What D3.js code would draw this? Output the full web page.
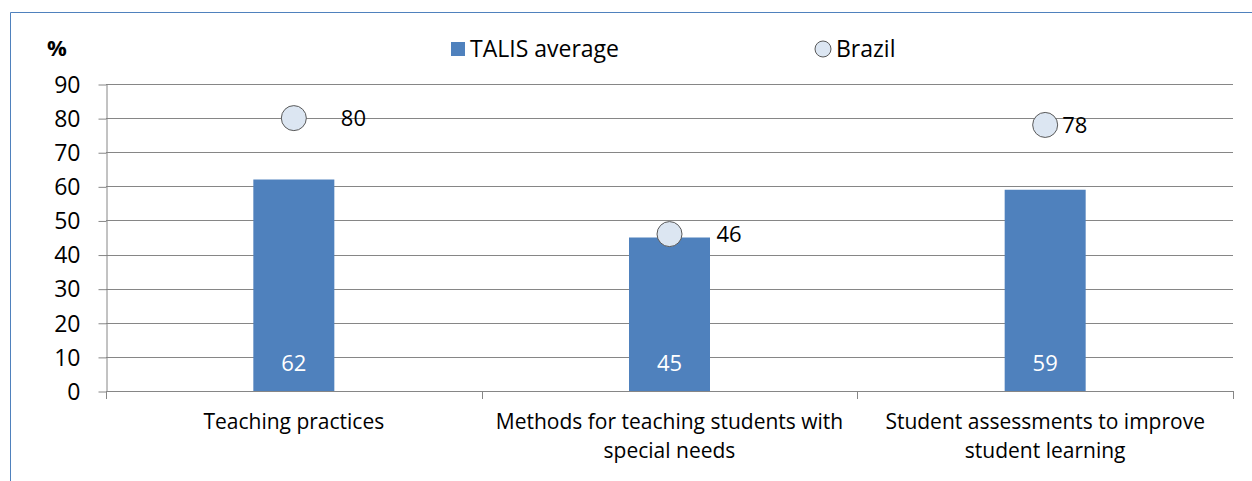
<html lang="en">
<head>
    <meta charset="utf-8">
    <title>TALIS vs Brazil</title>
    <style>
        body { margin: 0; background: white; }
        svg { display: block; }
        .axis path, .axis line { stroke: #868686; }
        text { font-family: "Open Sans", sans-serif; fill: #000; }
    </style>
</head>
<body>
    <script src="https://d3js.org/d3.v7.min.js"></script>
    <div id="chart"></div>
    <script type="text/javascript">
        // data
        var categories = [
            ["Teaching practices"],
            ["Methods for teaching students with", "special needs"],
            ["Student assessments to improve", "student learning"]
        ];
        var talisAverage = [62, 45, 59];
        var brazil = [80, 46, 78];
        var yTicks = [0, 10, 20, 30, 40, 50, 60, 70, 80, 90];

        var width = 1252, height = 481;
        var plotLeft = 106, plotRight = 1233, plotTop = 84, plotBottom = 391;

        var svg = d3.select("#chart").append("svg")
            .attr("width", width)
            .attr("height", height);

        // outer frame (only top and left edges visible)
        svg.append("line").attr("x1", 10.5).attr("x2", width).attr("y1", 12.5).attr("y2", 12.5)
            .attr("stroke", "#4f81bd").attr("stroke-width", 1);
        svg.append("line").attr("x1", 10.5).attr("x2", 10.5).attr("y1", 12.5).attr("y2", height)
            .attr("stroke", "#4f81bd").attr("stroke-width", 1);

        var idx = d3.range(categories.length);
        var x = d3.scaleBand().domain(idx).range([plotLeft, plotRight]);
        var y = d3.scaleLinear().domain([0, 90]).range([plotBottom, plotTop]);

        // gridlines
        svg.append("g").selectAll("line")
            .data(yTicks.filter(function(d) { return d > 0; }))
            .enter().append("line")
            .attr("x1", plotLeft).attr("x2", plotRight)
            .attr("y1", function(d) { return Math.round(y(d)) + 0.5; })
            .attr("y2", function(d) { return Math.round(y(d)) + 0.5; })
            .attr("stroke", "#868686");

        // y axis
        var yAxis = d3.axisLeft(y).tickValues(yTicks).tickSize(8).tickSizeOuter(0).tickPadding(18);
        var gy = svg.append("g").attr("class", "axis")
            .attr("transform", "translate(" + (plotLeft + 0.5) + ",0.5)")
            .call(yAxis);
        gy.selectAll("text").style("font-size", "23px").style("font-family", "'Open Sans', sans-serif")
            .attr("dy", "0.34em");

        // x axis line + boundary ticks
        svg.append("line").attr("x1", plotLeft).attr("x2", plotRight)
            .attr("y1", plotBottom + 0.5).attr("y2", plotBottom + 0.5).attr("stroke", "#868686");
        svg.append("g").selectAll("line")
            .data(d3.range(categories.length + 1))
            .enter().append("line")
            .attr("x1", function(d) { return Math.round(plotLeft + d * x.step()) + 0.5; })
            .attr("x2", function(d) { return Math.round(plotLeft + d * x.step()) + 0.5; })
            .attr("y1", plotBottom).attr("y2", plotBottom + 8)
            .attr("stroke", "#868686");

        // bars
        var barW = 81;
        svg.append("g").selectAll("rect")
            .data(idx)
            .enter().append("rect")
            .attr("x", function(i) { return x(i) + x.bandwidth() / 2 - barW / 2; })
            .attr("y", function(i) { return y(talisAverage[i]); })
            .attr("width", barW)
            .attr("height", function(i) { return plotBottom - y(talisAverage[i]); })
            .attr("fill", "#4f81bd");

        svg.append("g").selectAll("text")
            .data(idx)
            .enter().append("text")
            .attr("x", function(i) { return x(i) + x.bandwidth() / 2; })
            .attr("y", plotBottom - 20)
            .attr("text-anchor", "middle")
            .style("font-size", "22px")
            .style("fill", "white")
            .text(function(i) { return talisAverage[i]; });

        // Brazil markers
        svg.append("g").selectAll("circle")
            .data(idx)
            .enter().append("circle")
            .attr("cx", function(i) { return x(i) + x.bandwidth() / 2; })
            .attr("cy", function(i) { return y(brazil[i]); })
            .attr("r", 12.5)
            .attr("fill", "#dce6f2")
            .attr("stroke", "#595959")
            .attr("stroke-width", 1);

        svg.append("g").selectAll("text")
            .data(idx)
            .enter().append("text")
            .attr("x", function(i) { return x(i) + x.bandwidth() / 2 + (i == 2 ? 17 : 47); })
            .attr("y", function(i) { return y(brazil[i]) + 8; })
            .style("font-size", "22px")
            .text(function(i) { return brazil[i]; });

        // category labels
        var catG = svg.append("g").selectAll("text")
            .data(idx)
            .enter().append("text")
            .attr("text-anchor", "middle")
            .style("font-size", "21px");
        catG.each(function(i) {
            var t = d3.select(this);
            categories[i].forEach(function(line, k) {
                t.append("tspan")
                    .attr("x", x(i) + x.bandwidth() / 2)
                    .attr("y", 429 + k * 29)
                    .text(line);
            });
        });

        // "%" label
        svg.append("text").attr("x", 47).attr("y", 56)
            .style("font-size", "22px").style("font-weight", "bold").text("%");

        // legend
        svg.append("rect").attr("x", 451).attr("y", 42).attr("width", 14).attr("height", 14)
            .attr("fill", "#4f81bd");
        svg.append("text").attr("x", 470).attr("y", 57).style("font-size", "23px").text("TALIS average");
        svg.append("circle").attr("cx", 823).attr("cy", 49).attr("r", 8)
            .attr("fill", "#dce6f2").attr("stroke", "#595959");
        svg.append("text").attr("x", 836).attr("y", 57).style("font-size", "23px").text("Brazil");
    </script>
</body>
</html>
